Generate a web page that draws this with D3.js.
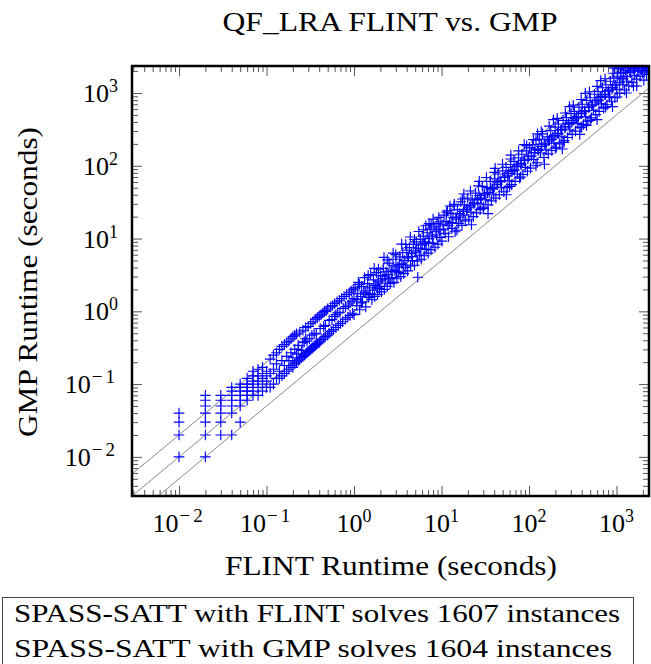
<!DOCTYPE html>
<html><head><meta charset="utf-8">
<script src="https://cdn.jsdelivr.net/npm/d3@7/dist/d3.min.js"></script>
<style>body{margin:0;background:#fff}svg{display:block}</style>
</head><body>
<svg id="chart" width="651" height="664"></svg>
<script>
// ---- data (seconds): [FLINT runtime, GMP runtime] ----
const pointsBelow01 = [
[0.01,0.01],[0.01,0.02],[0.01,0.03],[0.01,0.04],
[0.02,0.01],[0.02,0.02],[0.02,0.03],[0.02,0.04],[0.02,0.05],[0.02,0.06],[0.02,0.07],
[0.03,0.02],[0.03,0.03],[0.03,0.04],[0.03,0.05],[0.03,0.06],[0.03,0.07],
[0.04,0.02],[0.04,0.04],[0.04,0.05],[0.04,0.06],[0.04,0.07],[0.04,0.08],[0.04,0.09],
[0.05,0.03],[0.05,0.05],[0.05,0.06],[0.05,0.07],[0.05,0.08],[0.05,0.09],[0.05,0.1],
[0.06,0.06],[0.06,0.07],[0.06,0.08],[0.06,0.09],[0.06,0.1],[0.06,0.12],
[0.07,0.07],[0.07,0.08],[0.07,0.1],[0.07,0.11],[0.07,0.13],[0.07,0.15],
[0.08,0.07],[0.08,0.09],[0.08,0.11],[0.08,0.13],[0.08,0.16],
[0.09,0.08],[0.09,0.1],[0.09,0.12],[0.09,0.14],[0.09,0.17],
[0.1,0.09],[0.1,0.11],[0.1,0.13],[0.1,0.15]
];
const pointsTo1 = [
[0.11,0.09],[0.11,0.14],[0.11,0.22],[0.12,0.1],[0.12,0.16],[0.12,0.25],[0.13,0.12],[0.13,0.19],[0.13,0.27],
[0.14,0.12],[0.14,0.15],[0.14,0.3],[0.15,0.13],[0.15,0.21],[0.15,0.33],[0.16,0.14],[0.16,0.18],[0.16,0.35],
[0.17,0.15],[0.17,0.24],[0.17,0.37],[0.18,0.16],[0.18,0.21],[0.18,0.39],[0.19,0.18],[0.19,0.27],[0.19,0.42],
[0.2,0.17],[0.2,0.23],[0.2,0.45],[0.21,0.19],[0.21,0.3],[0.21,0.47],[0.22,0.2],[0.22,0.26],[0.22,0.49],
[0.23,0.21],[0.23,0.34],[0.24,0.22],[0.24,0.52],[0.25,0.23],[0.25,0.29],[0.26,0.24],[0.26,0.55],[0.27,0.25],
[0.27,0.38],[0.28,0.26],[0.28,0.6],[0.29,0.27],[0.3,0.28],[0.3,0.62],[0.31,0.29],[0.31,0.42],[0.32,0.3],[0.32,0.68],
[0.33,0.31],[0.34,0.32],[0.34,0.72],[0.35,0.33],[0.36,0.34],[0.36,0.78],[0.37,0.35],[0.38,0.36],[0.38,0.82],
[0.4,0.37],[0.4,0.86],[0.41,0.39],[0.42,0.9],[0.43,0.41],[0.44,0.95],[0.45,0.43],[0.46,1.0],[0.47,0.45],
[0.48,1.02],[0.5,0.47],[0.5,1.08],[0.52,0.5],[0.54,1.15],[0.55,0.53],[0.57,1.2],[0.58,0.56],[0.6,1.28],
[0.62,0.6],[0.64,1.35],[0.66,0.64],[0.68,1.42],[0.7,0.68],[0.72,1.5],[0.74,0.72],[0.77,1.6],[0.8,0.78],
[0.82,1.7],[0.85,0.83],[0.88,1.8],[0.9,0.88],[0.93,1.9],[0.96,0.94],[0.98,2.0],
[0.45,0.62],[0.6,0.85],[0.75,1.1],[0.9,1.3],[0.35,0.5],[0.28,0.42],[0.65,0.95],
[0.23,0.3],[0.26,0.37],[0.29,0.39],[0.33,0.47],[0.37,0.49],[0.41,0.58],[0.47,0.64],[0.52,0.75],
[0.56,0.77],[0.62,0.9],[0.69,0.97],[0.8,1.16],[0.86,1.22],[0.95,1.38]
];
const pointsTo10 = [
[1.0,0.9],[1.0,1.5],[1.03,2.1],[1.07,1.2],[1.1,1.75],[1.12,2.5],[1.16,1.05],[1.19,1.6],[1.22,2.2],[1.25,1.35],
[1.29,1.9],[1.32,2.9],[1.36,1.15],[1.4,1.7],[1.43,2.4],[1.47,1.55],[1.5,2.1],[1.55,3.2],[1.6,1.45],[1.63,1.95],
[1.67,2.7],[1.72,1.6],[1.77,2.3],[1.81,3.4],[1.86,1.7],[1.9,2.6],[1.95,2.05],[2.0,3.1],[2.05,1.85],[2.1,2.8],
[2.16,3.9],[2.22,2.0],[2.27,2.7],[2.33,3.5],[2.4,2.2],[2.46,3.2],[2.52,4.6],[2.59,2.4],[2.65,3.7],[2.72,2.9],
[2.79,4.3],[2.86,2.5],[2.94,3.6],[3.01,5.2],[3.09,2.8],[3.17,4.1],[3.25,3.4],[3.34,5.6],[3.42,3.0],[3.51,4.5],
[3.6,6.4],[3.7,3.3],[3.8,5.0],[3.9,4.0],[4.0,6.9],[4.1,3.6],[4.2,5.6],[4.3,7.5],[4.42,4.2],[4.53,6.2],
[4.65,5.0],[4.77,8.3],[4.9,4.3],[5.03,6.8],[5.16,9.0],[5.29,4.9],[5.35,2.94],[5.43,7.4],[5.57,5.9],[5.72,9.8],
[5.87,5.2],[6.02,8.2],[6.18,10.8],[6.34,5.8],[6.5,9.0],[6.67,7.1],[6.85,12.0],[7.03,6.3],[7.21,10.0],[7.4,13.5],
[7.59,7.0],[7.79,11.2],[7.99,8.6],[8.2,14.5],[8.41,7.6],[8.63,12.4],[8.86,16.2],[9.09,8.4],[9.33,13.5],[9.57,10.4],
[9.82,17.0],[2.2,5.5],[3.5,8.4],[4.4,10.5],[6.6,15],[8.0,18.5],[1.7,3.9],[2.8,6.3],[5.5,12.5],[7.2,16],
[1.08,1.45],[1.21,1.3],[1.34,1.8],[1.52,1.75],[1.69,2.25],[1.84,2.15],[2.03,2.45],[2.25,3.05],[2.48,2.85],[2.7,3.5],
[3.05,3.55],[3.3,4.4],[3.65,4.35],[4.05,5.4],[4.6,5.65],[5.1,6.5],[5.8,7.2],[6.4,8.5],[7.1,8.9],[7.9,10.6],
[8.8,11.2],[9.6,13.1],[1.15,2.35],[1.45,3.1],[1.9,3.8],[2.4,5.1],[3.0,6.0],[3.9,8.3],[4.9,9.7],[6.2,13.2],
[7.6,15.4],[9.3,19.5]
];
const pointsTo100 = [
[10.1,9.2],[10.4,15.5],[10.7,21],[11.0,11.8],[11.3,17.2],[11.7,24],[12.0,10.6],[12.4,16.3],[12.8,22],[13.1,13.8],
[13.5,19.6],[13.9,28],[14.3,12.4],[14.8,18.5],[15.2,25],[15.7,16.2],[16.1,22],[16.6,32],[17.1,15.2],[17.6,21],
[18.2,29],[18.7,17.5],[19.3,25],[19.9,36],[20.5,18.4],[21.1,27],[21.7,23],[22.4,34],[23.1,20],[23.8,31],
[24.5,42],[25.2,22.5],[26.0,30],[26.8,39],[27.6,25],[28.4,36],[29.3,52],[30.2,27],[31.1,41],[32.0,34],
[33.0,50],[34.0,29],[35.0,43],[36.1,61],[37.2,33],[38.3,48],[39.4,40],[40.6,66],[41.8,36],[43.1,55],
[44.4,77],[45.7,40],[47.1,62],[48.5,50],[50.0,85],[51.5,44],[53.0,70],[54.6,95],[56.3,50],[58.0,78],
[59.7,62],[61.5,104],[63.4,55],[65.3,88],[67.3,115],[69.3,61],[71.4,97],[73.5,77],[75.7,129],[78.0,68],
[80.4,108],[82.8,144],[85.3,76],[87.8,120],[90.5,95],[93.2,160],[96.0,84],[98.9,134],
[12.5,28],[18,41],[27,61],[41,92],[62,140],[88,195],[34,22],[55,40],[22,15.5],
[10.6,13.2],[11.9,15.1],[13.2,16.6],[14.6,19.5],[16.3,19.8],[17.9,23.6],[19.6,25.4],[21.4,28.3],[23.5,30.2],[25.6,34.5],
[28,35.5],[30.7,41],[33.5,42.6],[36.6,48.5],[40,51],[43.7,58.5],[47.8,61],[52.2,69],[57,72.5],[62.4,83],
[68.2,87],[74.5,99],[81.4,103],[89,118],[97,124],[11.4,23],[14,29.5],[17.3,35],[21.4,45],[26.4,53],
[32.6,69],[40.3,81],[49.8,105],[61.5,124],[76,160],[94,189],[15,13],[30,26],[60,52],[80,70]
];
const pointsTo1000 = [
[101,178],[104,93],[107,150],[110,195],[113,122],[117,170],[120,225],[124,110],[127,168],[131,232],
[135,150],[139,198],[143,275],[148,130],[152,205],[157,165],[162,250],[166,146],[171,228],[177,305],
[182,162],[187,250],[193,205],[199,340],[205,180],[211,280],[217,375],[224,200],[231,310],[238,250],
[245,420],[252,222],[260,345],[268,460],[276,245],[284,380],[293,310],[302,520],[311,270],[320,420],
[330,560],[340,300],[350,470],[361,380],[372,640],[383,335],[394,520],[406,700],[418,370],[431,570],
[444,470],[457,790],[471,410],[485,640],[500,860],[515,455],[530,700],[546,580],[562,960],[579,505],
[597,790],[615,1050],[633,560],[652,870],[672,710],[692,1180],[713,620],[734,960],[756,1300],[779,690],
[802,1060],[826,880],[851,1450],[877,770],[903,1190],[930,1600],[958,860],[987,1300],
[125,275],[190,430],[290,650],[440,990],[660,1480],[150,105],[240,170],[380,270],[600,430],[900,650],[453,359],[836,875],
[106,136],[116,152],[127,162],[139,183],[152,194],[166,219],[181,231],[198,262],[216,276],[236,312],
[258,330],[282,372],[308,395],[336,445],[367,470],[401,528],[438,560],[478,632],[522,668],[570,752],
[623,798],[680,900],[743,950],[811,1070],[886,1130],[968,1280],[112,230],[138,296],[170,350],[210,448],
[260,532],[320,680],[395,815],[490,1040],[600,1235],[740,1570],[910,1870],[120,100],[250,210],[500,420],
[750,640],[200,175],[400,340]
];
const pointsTo2400 = [
[1005,1120],[1030,1700],[1060,2150],[1090,990],[1120,1600],[1150,2300],[1180,1300],[1210,1900],[1240,1100],[1270,2050],
[1300,1450],[1340,2200],[1380,1250],[1420,1950],[1460,2350],[1500,1400],[1550,2150],[1600,1750],[1650,2300],[1700,1550],
[1750,2000],[1800,2350],[1860,1700],[1920,2250],[1980,1900],[2040,2350],[2100,2050],[2170,2300],[2240,2200],[2320,2350],
[2400,2400],[950,2200],[1050,2300],[1200,2350],[1300,1000],[1700,1250],[2050,1500],
[1080,1390],[1190,1560],[1320,1690],[1450,1900],[1600,2060],[1760,2250],[1930,2150],[2130,2330],[1110,1880],[1380,2300],
[1020,880],[1560,1250],[2200,1800]
];
const referenceFactors = [2, 1, 0.5];        // GMP = factor * FLINT
const majorTicks = [0.01, 0.1, 1, 10, 100, 1000];
const tickExponents = ["\u22122", "\u22121", "0", "1", "2", "3"];
const axisDomain = [0.0029, 2350];
const titleText = "QF_LRA FLINT vs. GMP";
const xLabel = "FLINT Runtime (seconds)";
const yLabel = "GMP Runtime (seconds)";
const legendLines = ["SPASS-SATT with FLINT solves 1607 instances",
                     "SPASS-SATT with GMP solves 1604 instances"];

// ---- drawing ----
const points = [].concat(pointsBelow01, pointsTo1, pointsTo10, pointsTo100, pointsTo1000, pointsTo2400);
const L = 132, R = 649, T = 66, B = 496;
const FONT = "'Liberation Serif','DejaVu Serif',serif";
const svg = d3.select("#chart");
const x = d3.scaleLog().domain(axisDomain).range([L, R]);
const y = d3.scaleLog().domain(axisDomain).range([B, T]);

svg.append("defs").append("clipPath").attr("id", "plotclip")
  .append("rect").attr("x", L).attr("y", T).attr("width", R - L).attr("height", B - T);

const minorTicks = x.ticks().filter(v => !majorTicks.some(m => Math.abs(Math.log10(v) - Math.log10(m)) < 1e-6));

function styleAxis(g) {
  g.select(".domain").remove();
  g.selectAll(".tick line").attr("stroke", "#555").attr("stroke-width", 1);
  g.selectAll(".tick text").remove();
}
const axes = [
  [d3.axisBottom(x), `translate(0,${B})`],
  [d3.axisTop(x), `translate(0,${T})`],
  [d3.axisLeft(y), `translate(${L},0)`],
  [d3.axisRight(y), `translate(${R},0)`]
];
axes.forEach(([ax, tr]) => {
  svg.append("g").attr("transform", tr)
    .call(ax.tickValues(majorTicks).tickSize(-10).tickFormat(() => "")).call(styleAxis);
  svg.append("g").attr("transform", tr)
    .call(ax.tickValues(minorTicks).tickSize(-6).tickFormat(() => "")).call(styleAxis);
});

// reference lines
const plot = svg.append("g").attr("clip-path", "url(#plotclip)");
plot.selectAll("line.ref").data(referenceFactors).join("line").attr("class", "ref")
  .attr("x1", x(axisDomain[0])).attr("y1", f => y(axisDomain[0] * f))
  .attr("x2", x(axisDomain[1])).attr("y2", f => y(axisDomain[1] * f))
  .attr("stroke", "#8a8a8a").attr("stroke-width", 1);

// markers
const s = 5.3;
plot.selectAll("path.pt").data(points).join("path").attr("class", "pt")
  .attr("d", d => `M${x(d[0]) - s},${y(d[1])}H${x(d[0]) + s}M${x(d[0])},${y(d[1]) - s}V${y(d[1]) + s}`)
  .attr("stroke", "#0000ff").attr("stroke-width", 1.15).attr("fill", "none");

// frame
svg.append("rect").attr("x", L).attr("y", T).attr("width", R - L).attr("height", B - T)
  .attr("fill", "none").attr("stroke", "#000").attr("stroke-width", 2.5);

// tick labels
const xl = svg.append("g").attr("font-family", FONT).attr("fill", "#000");
function tickLabel(t, i) {
  t.attr("font-size", 26);
  t.append("tspan").text("10");
  const neg = tickExponents[i].length > 1;
  t.append("tspan").attr("dy", -10).attr("dx", neg ? 1 : 0).attr("font-size", neg ? 19 : 18)
    .attr("letter-spacing", neg ? 3 : 0).text(tickExponents[i]);
}
majorTicks.forEach((v, i) => {
  xl.append("text").attr("x", x(v)).attr("y", 532).attr("text-anchor", "middle").call(tickLabel, i);
  xl.append("text").attr("x", 118).attr("y", y(v) + 9).attr("text-anchor", "end").call(tickLabel, i);
});

// titles
svg.append("text").attr("x", 390).attr("y", 31).attr("text-anchor", "middle")
  .attr("font-family", FONT).attr("font-size", 27).attr("textLength", 335).attr("lengthAdjust", "spacingAndGlyphs")
  .text(titleText);
svg.append("text").attr("x", 391).attr("y", 575).attr("text-anchor", "middle")
  .attr("font-family", FONT).attr("font-size", 27).attr("textLength", 332).attr("lengthAdjust", "spacingAndGlyphs")
  .text(xLabel);
svg.append("text").attr("transform", "translate(37,282) rotate(-90)").attr("text-anchor", "middle")
  .attr("font-family", FONT).attr("font-size", 27).attr("textLength", 310).attr("lengthAdjust", "spacingAndGlyphs")
  .text(yLabel);

// legend
svg.append("rect").attr("x", 2.5).attr("y", 597.5).attr("width", 631).attr("height", 80)
  .attr("fill", "#fff").attr("stroke", "#444").attr("stroke-width", 1);
const lw = [606, 598];
legendLines.forEach((txt, i) => {
  svg.append("text").attr("x", 14).attr("y", 622 + i * 35)
    .attr("font-family", FONT).attr("font-size", 26).attr("textLength", lw[i]).attr("lengthAdjust", "spacingAndGlyphs")
    .text(txt);
});
</script>
</body></html>
